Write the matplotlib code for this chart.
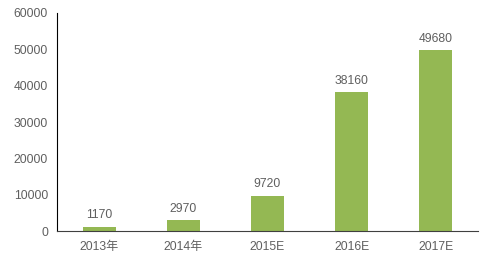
import matplotlib
matplotlib.use('Agg')
import matplotlib.pyplot as plt

years = ['2013年', '2014年', '2015E', '2016E', '2017E']
values = [1170, 2970, 9720, 38160, 49680]
yticks = [0, 10000, 20000, 30000, 40000, 50000, 60000]

plt.rcParams['font.family'] = ['Liberation Sans', 'Noto Sans CJK SC']

fig = plt.figure(figsize=(5, 2.7), dpi=100)
ax = fig.add_axes([0.114, 0.144, 0.842, 0.808])

x = range(len(years))
bars = ax.bar(x, values, width=0.39, color='#94b853')

# value labels above bars
for xi, v in zip(x, values):
    ax.annotate(str(v), (xi, v), xytext=(0, 4), textcoords='offset points',
                ha='center', va='bottom', fontsize=8.7, color='#5f5f5f')

ax.set_xlim(-0.5, len(years) - 0.5)
ax.set_ylim(0, 60000)
ax.set_yticks(yticks)
ax.set_xticks(list(x))
ax.set_xticklabels(years)

ax.spines['top'].set_visible(False)
ax.spines['right'].set_visible(False)
ax.spines['left'].set_color('black')
ax.spines['bottom'].set_color('#404040')
ax.spines['left'].set_linewidth(0.8)
ax.spines['bottom'].set_linewidth(0.8)

ax.tick_params(axis='y', length=0, pad=6.5, labelsize=8.7, labelcolor='#5f5f5f')
ax.tick_params(axis='x', length=0, pad=7, labelsize=8.7, labelcolor='#5f5f5f')

fig.savefig('out.png', dpi=100)
